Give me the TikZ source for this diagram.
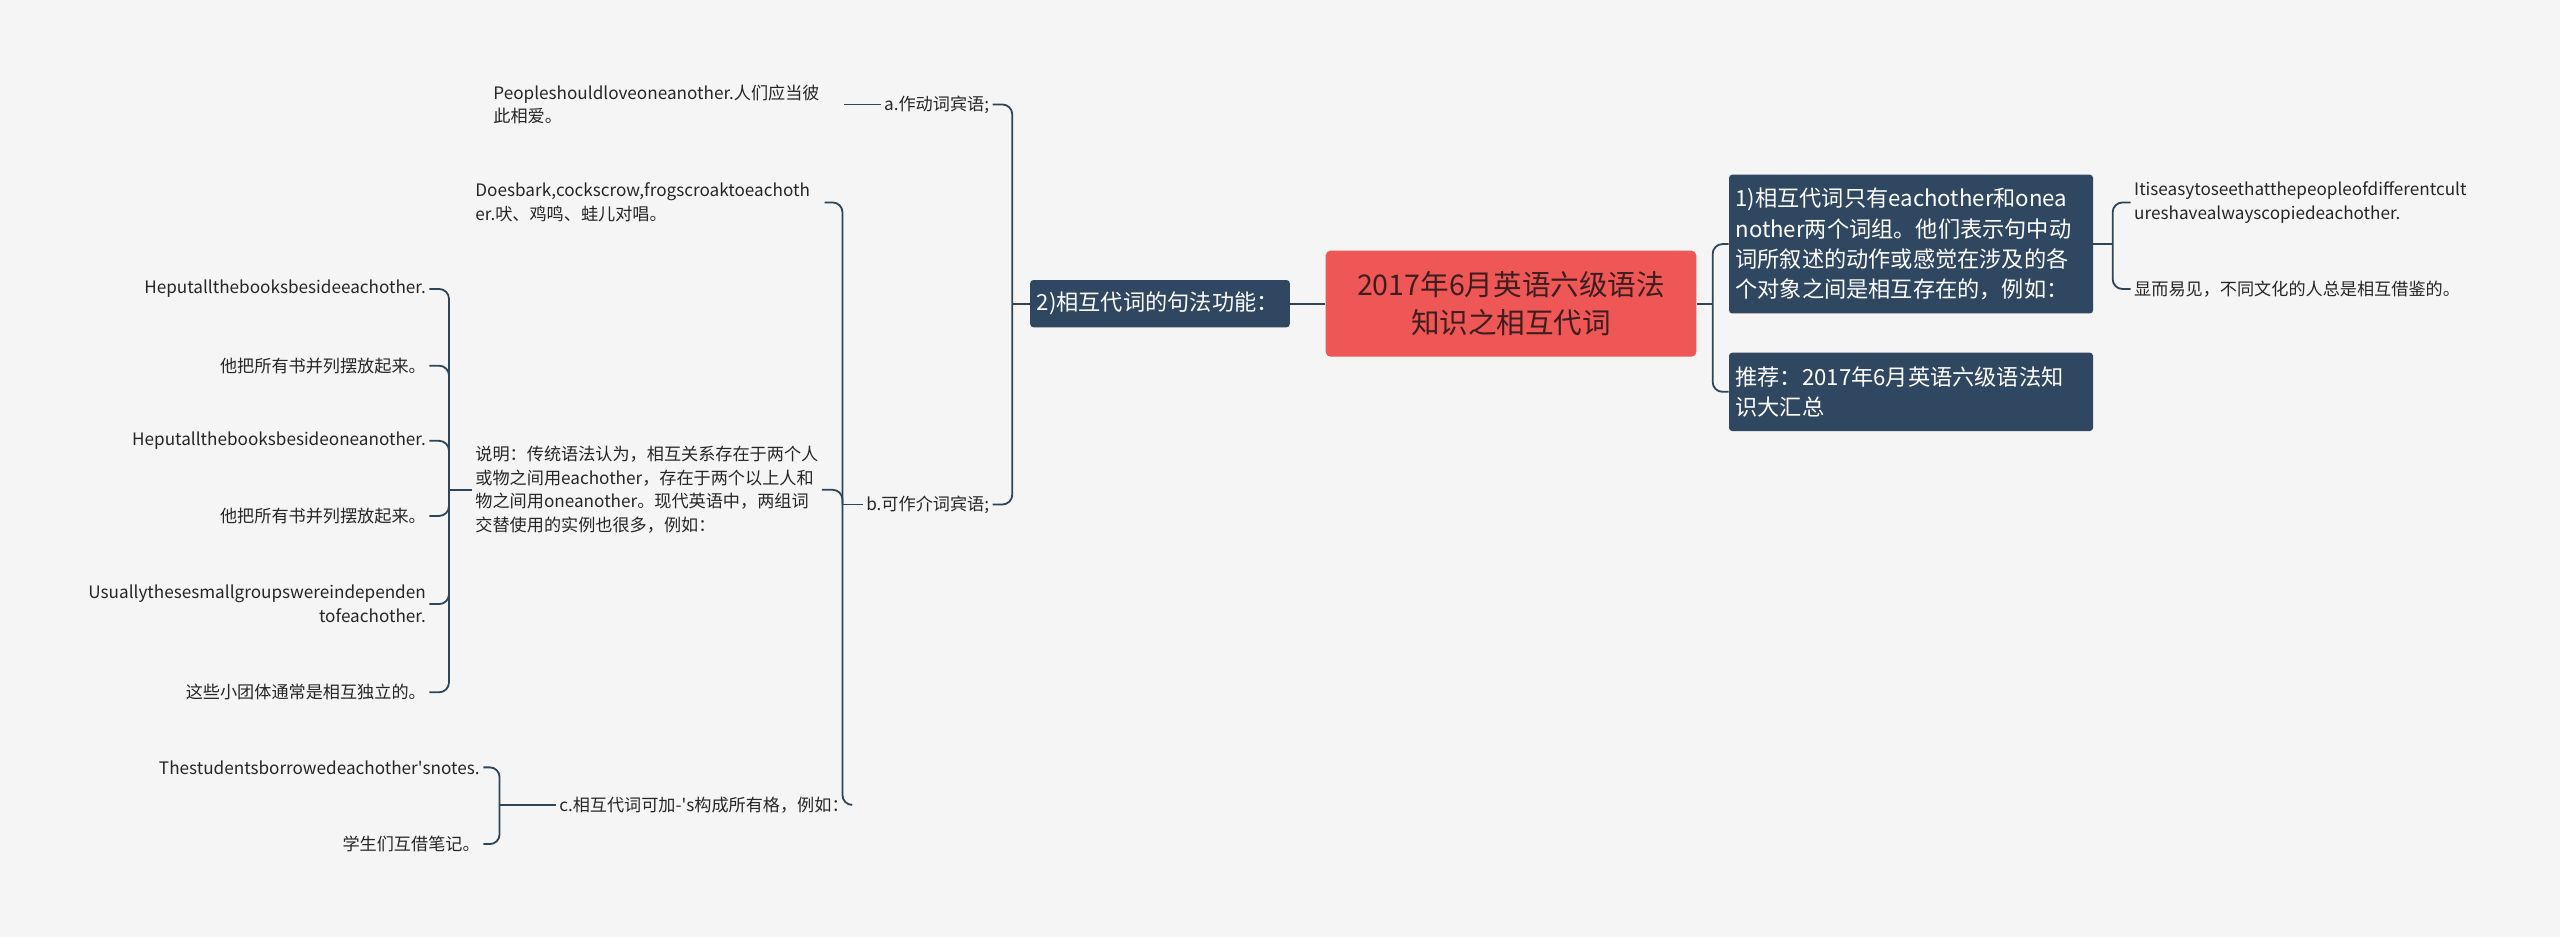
\documentclass[tikz,border=0pt]{standalone}
\usepackage{fontspec}
\setmainfont{Noto Sans CJK SC}
\begin{document}
\begin{tikzpicture}[x=1pt,y=-1pt,
  conn/.style={draw=lc,line width=1.1pt,rounded corners=6pt},
  leaf/.style={font=\fontsize{10.5}{14.5}\selectfont,text=black!85,inner sep=2pt,align=left},
  leafr/.style={leaf,align=right},
  topic/.style={fill=tc,text=white,rounded corners=2pt,font=\fontsize{13.6}{18.5}\selectfont,align=left,inner sep=4pt}]
\definecolor{lc}{HTML}{2E4558}
\definecolor{tc}{HTML}{2F4760}
\definecolor{rc}{HTML}{EF5656}
\fill[fill={rgb,255:red,245;green,245;blue,245}] (0,0) rectangle (1568,574);
\useasboundingbox (0,0) rectangle (1568,574);
% central
\node[fill=rc,rounded corners=3pt,minimum width=227pt,minimum height=65pt,align=center,text={rgb,255:red,60;green,30;blue,30},font=\fontsize{17.5}{23}\selectfont] (C) at (925.5,186) {2017年6月英语六级语法\\知识之相互代词};
% right
\node[topic,minimum width=223pt,minimum height=85pt,text width=215pt] (R1) at (1170.5,149.5) {1)相互代词只有eachother和onea\\nother两个词组。他们表示句中动\\词所叙述的动作或感觉在涉及的各\\个对象之间是相互存在的，例如：};
\node[topic,minimum width=223pt,minimum height=48pt,text width=215pt] (R2) at (1170.5,240) {推荐：2017年6月英语六级语法知\\识大汇总};
\node[leaf,anchor=west] (R11) at (1305,124) {Itiseasytoseethatthepeopleofdifferentcult\\ureshavealwayscopiedeachother.};
\node[leaf,anchor=west] (R12) at (1305,177) {显而易见，不同文化的人总是相互借鉴的。};
\coordinate (bC) at (1049,186);
\draw[conn] (C.east) -- (bC);
\draw[conn] (bC) |- (R1.west);
\draw[conn] (bC) |- (R2.west);
\coordinate (bR1) at (1294,149.5);
\draw[conn] (R1.east) -- (bR1);
\draw[conn] (bR1) |- (R11.west);
\draw[conn] (bR1) |- (R12.west);
% left
\node[topic,minimum width=159pt,minimum height=29pt,text width=151pt] (L) at (710.5,186) {2)相互代词的句法功能：};
\draw[conn] (C.west) -- (L.east);
\node[leaf,anchor=east] (A) at (608,64) {a.作动词宾语;};
\node[leaf,anchor=east] (B) at (608,309) {b.可作介词宾语;};
\coordinate (bL) at (620,186);
\draw[conn] (L.west) -- (bL);
\draw[conn] (bL) |- (A.east);
\draw[conn] (bL) |- (B.east);
\node[leaf,anchor=west] (A1) at (300,64) {Peopleshouldloveoneanother.人们应当彼\\此相爱。};
\draw[conn] (A.west) -- (517,64);
% b children
\node[leaf,anchor=west] (B1) at (289,124) {Doesbark,cockscrow,frogscroaktoeachoth\\er.吠、鸡鸣、蛙儿对唱。};
\node[leaf,anchor=west,text width=210pt] (B2) at (289,300) {说明：传统语法认为，相互关系存在于两个人\\或物之间用eachother，存在于两个以上人和\\物之间用oneanother。现代英语中，两组词\\交替使用的实例也很多，例如：};
\node[leaf,anchor=east] (B3) at (522,493) {c.相互代词可加-\textquotesingle s构成所有格，例如：};
\coordinate (bB) at (516,309);
\draw[conn] (B.west) -- (bB);
\draw[conn] (bB) |- (505,124);
\draw[conn] (bB) |- (B2.east);
\draw[conn] (bB) |- (B3.east);
% 说明 children
\coordinate (bS) at (275,300);
\draw[conn] (B2.west) -- (bS);
\foreach \n/\y/\t in {S1/177/{Heputallthebooksbesideeachother.},S2/224/{他把所有书并列摆放起来。},S3/270/{Heputallthebooksbesideoneanother.},S4/316/{他把所有书并列摆放起来。},S5/370/{Usuallythesesmallgroupswereindependen\\tofeachother.},S6/424/{这些小团体通常是相互独立的。}}{
  \node[leafr,anchor=east] (\n) at (263,\y) {\t};
  \draw[conn] (bS) |- (\n.east);
}
% c children
\coordinate (bc) at (306,493);
\draw[conn] (B3.west) -- (bc);
\node[leafr,anchor=east] (c1) at (296,470) {Thestudentsborrowedeachother\textquotesingle snotes.};
\node[leafr,anchor=east] (c2) at (296,517) {学生们互借笔记。};
\draw[conn] (bc) |- (c1.east);
\draw[conn] (bc) |- (c2.east);
\end{tikzpicture}
\end{document}
